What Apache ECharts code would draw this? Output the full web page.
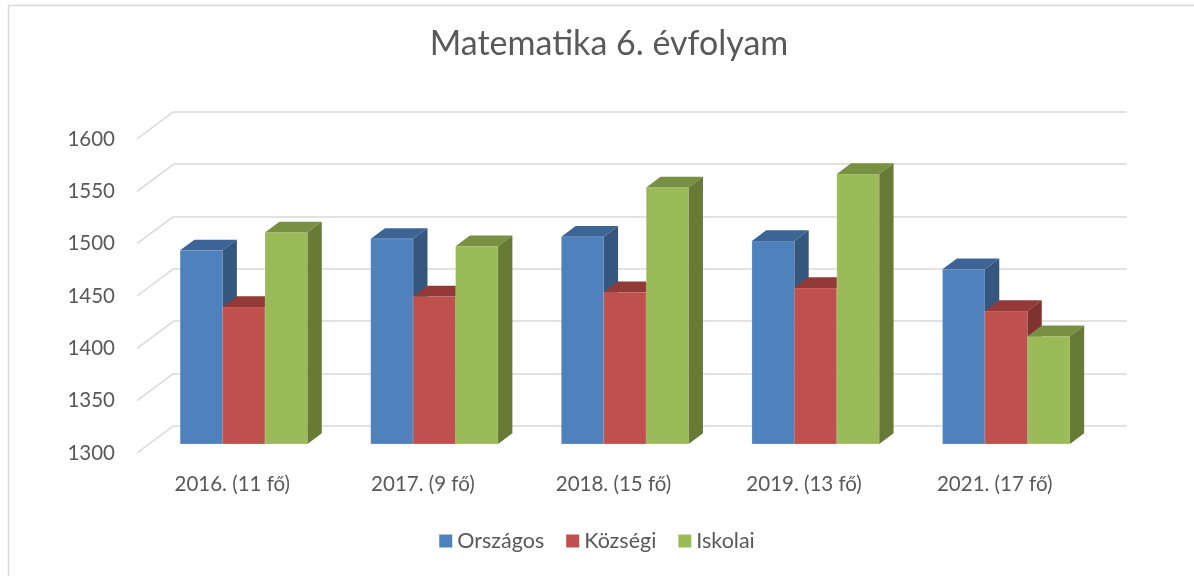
<!DOCTYPE html>
<html>
<head>
<meta charset="utf-8">
<script src="https://cdn.jsdelivr.net/npm/echarts@6/dist/echarts.min.js"></script>
<style>
html,body{margin:0;padding:0;background:#fff;}
#chart{width:1194px;height:576px;}
</style>
</head>
<body>
<div id="chart"></div>
<script>
// ---- data ----
const categories = ['2016. (11 fő)', '2017. (9 fő)', '2018. (15 fő)', '2019. (13 fő)', '2021. (17 fő)'];
const seriesNames = ['Országos', 'Községi', 'Iskolai'];
const orszagos = [1485, 1496, 1498, 1494, 1467];
const kozsegi  = [1431, 1441, 1445, 1449, 1427];
const iskolai  = [1502, 1489, 1545, 1558, 1403];
const yTicks = [1300, 1350, 1400, 1450, 1500, 1550, 1600];
const yMin = 1300, yMax = 1600, yStep = 50;

// ---- styling ----
const FONT = 'Lato';
const TXT = '#595959';
const GRID_C = '#d9d9d9';
const faces = [
  {front: '#4f81bd', top: '#3c6595', side: '#34567f'},
  {front: '#c0504d', top: '#933a38', side: '#7f3230'},
  {front: '#9bbb59', top: '#779042', side: '#677a36'}
];
const DEPTH_X = 36.7, DEPTH_Y = 27.3;   // side-wall depth
const BAR_DX = 14.3, BAR_DY = 10.7;     // bar depth
const BAR_FRAC = 0.2227;                // bar width / category band

function barRender(si) {
  return function (params, api) {
    const idx = api.value(0);
    const val = api.value(1);
    const band = api.size([1, 0])[0];
    const w = band * BAR_FRAC;
    const c = api.coord([idx, val]);
    const base = api.coord([idx, yMin])[1];
    const x0 = c[0] - 1.5 * w + si * w;
    const yt = c[1];
    const f = faces[si];
    return {
      type: 'group',
      children: [
        {type: 'rect', shape: {x: x0, y: yt, width: w, height: base - yt},
         style: {fill: f.front, stroke: 'rgba(255,255,255,0.18)', lineWidth: 1}},
        {type: 'polygon', shape: {points: [[x0, yt], [x0 + w, yt], [x0 + w + BAR_DX, yt - BAR_DY], [x0 + BAR_DX, yt - BAR_DY]]},
         style: {fill: f.top}},
        {type: 'polygon', shape: {points: [[x0 + w, yt], [x0 + w + BAR_DX, yt - BAR_DY], [x0 + w + BAR_DX, base - BAR_DY], [x0 + w, base]]},
         style: {fill: f.side}}
      ]
    };
  };
}

const seriesData = [orszagos, kozsegi, iskolai];
const barSeries = seriesData.map((arr, si) => ({
  type: 'custom',
  name: seriesNames[si],
  xAxisIndex: 2, yAxisIndex: 2,
  z: 10 + si,
  color: faces[si].front,
  itemStyle: {color: faces[si].front},
  renderItem: barRender(si),
  encode: {x: 0, y: 1},
  data: arr.map((v, i) => [i, v])
}));

const sideWall = {
  type: 'custom',
  xAxisIndex: 1, yAxisIndex: 1,
  z: 2,
  silent: true,
  renderItem: function (params, api) {
    const y = api.coord([0, api.value(0)])[1];
    const x = params.coordSys.x;
    return {type: 'line', shape: {x1: x, y1: y, x2: x + DEPTH_X, y2: y - DEPTH_Y},
            style: {stroke: GRID_C, lineWidth: 1.5}};
  },
  encode: {y: 0},
  data: yTicks.map(v => [v])
};

const chart = echarts.init(document.getElementById('chart'), null, {renderer: 'canvas'});
const yCommon = {type: 'value', min: yMin, max: yMax, interval: yStep};
chart.setOption({
  animation: false,
  backgroundColor: '#fff',
  title: {
    text: 'Matematika 6. évfolyam',
    left: 604, top: 22, textAlign: 'center',
    textStyle: {fontFamily: FONT, fontSize: 34, fontWeight: 'normal', color: TXT}
  },
  legend: {
    bottom: 19, left: 'center',
    data: seriesNames,
    icon: 'rect', itemWidth: 13, itemHeight: 13, itemGap: 22,
    textStyle: {fontFamily: FONT, fontSize: 21.5, color: TXT}
  },
  graphic: [{
    type: 'rect', silent: true,
    shape: {x: 8.5, y: 5.5, width: 1400, height: 900},
    style: {fill: 'none', stroke: GRID_C, lineWidth: 1.5}
  }],
  grid: [
    {left: 173.7, top: 111.7, width: 953, height: 314},   // back wall
    {left: 137, top: 139, width: 953, height: 314},       // front plane
    {left: 148.5, top: 130, width: 953, height: 314}      // bar plane
  ],
  xAxis: [
    {gridIndex: 0, type: 'category', data: categories, show: false},
    {gridIndex: 1, type: 'category', data: categories,
     axisLine: {show: false}, axisTick: {show: false},
     axisLabel: {fontFamily: FONT, fontSize: 20.5, color: TXT, margin: 21}},
    {gridIndex: 2, type: 'category', data: categories, show: false}
  ],
  yAxis: [
    Object.assign({gridIndex: 0, axisLabel: {show: false}, axisLine: {show: false}, axisTick: {show: false},
      splitLine: {show: true, lineStyle: {color: GRID_C, width: 1.5}}}, yCommon),
    Object.assign({gridIndex: 1, axisLine: {show: false}, axisTick: {show: false}, splitLine: {show: false},
      axisLabel: {fontFamily: FONT, fontSize: 20.5, color: TXT, margin: 22, formatter: v => String(v)}}, yCommon),
    Object.assign({gridIndex: 2, show: false, splitLine: {show: false}}, yCommon)
  ],
  series: [sideWall].concat(barSeries)
});
</script>
</body>
</html>
